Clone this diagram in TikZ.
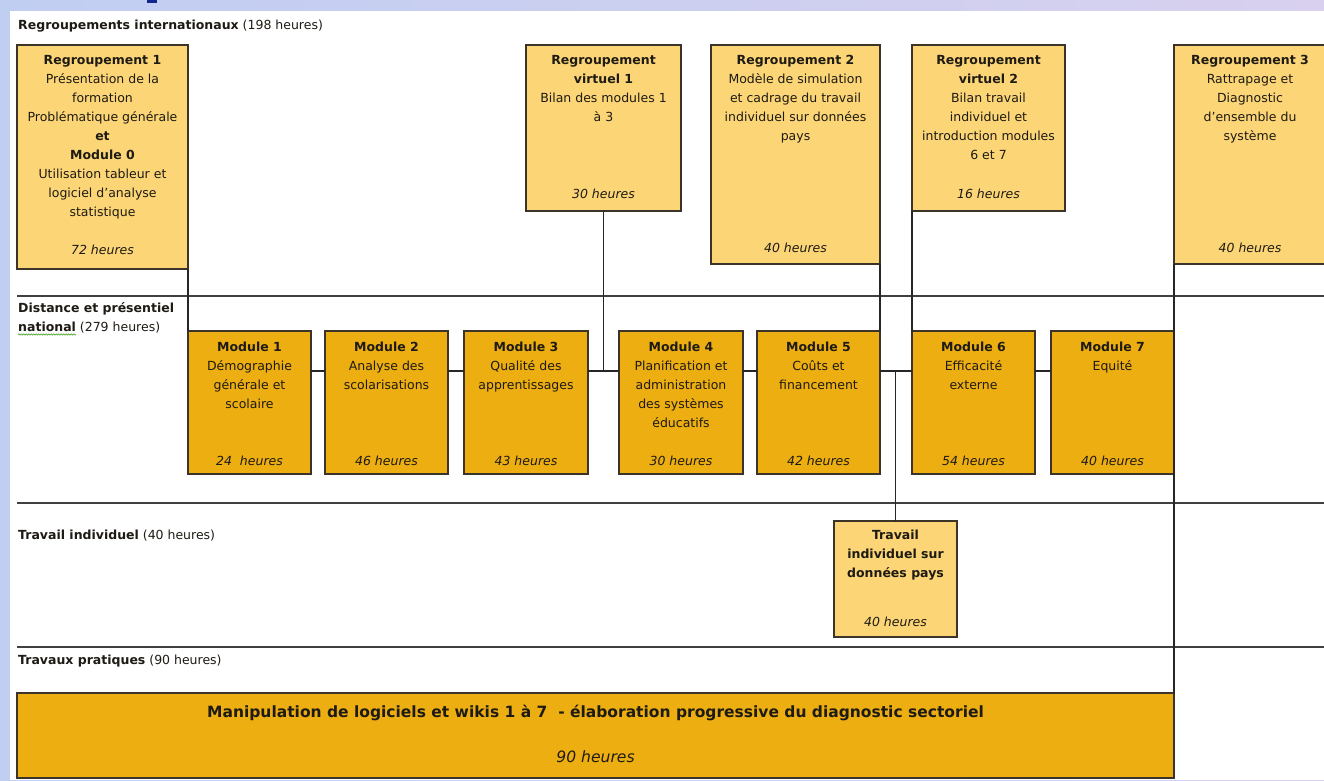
\documentclass[tikz,border=0pt]{standalone}
\usepackage{fontspec}
\setmainfont{DejaVu Sans}
\usetikzlibrary{decorations.pathmorphing}
\definecolor{lightbox}{RGB}{252,214,118}
\definecolor{darkbox}{RGB}{237,174,18}
\definecolor{edge}{RGB}{60,52,40}
\definecolor{ink}{RGB}{30,26,20}
\definecolor{bgA}{RGB}{192,206,242}
\definecolor{bgB}{RGB}{216,208,238}
\definecolor{markblue}{RGB}{20,40,140}
\definecolor{spell}{RGB}{90,170,60}
\newcommand{\R}{\rule{0pt}{13pt}}
\newcommand{\bx}[6]{\node[#2, minimum width={#5-#3}, minimum height={#6-#4}] (#1) at ({(#3+#5)/2},{(#4+#6)/2}) {};}
\tikzset{
  lbox/.style={draw=edge, line width=1.3pt, fill=lightbox, inner sep=0pt, outer sep=0pt},
  dbox/.style={draw=edge, line width=1.3pt, fill=darkbox, inner sep=0pt, outer sep=0pt},
  ttl/.style={anchor=north, align=center, inner sep=0pt, text=ink, font=\fontsize{12.5}{19}\selectfont},
  hrs/.style={anchor=base, inner sep=0pt, text=ink, font=\fontsize{12.5}{19}\selectfont\itshape},
  lane/.style={draw=black!75, line width=1.3pt},
  conn/.style={draw=black!85, line width=1.4pt},
  hdr/.style={anchor=base west, inner sep=0pt, text=ink, font=\fontsize{12.5}{19}\selectfont, align=left},
}
\begin{document}
\begin{tikzpicture}[x=1pt,y=-1pt]
\useasboundingbox (0,0) rectangle (1324,780);
\clip (0,0) rectangle (1324,780);
% background
\shade[left color=bgA, right color=bgB] (0,0) rectangle (1324,780);
\fill[white] (10,11) rectangle (1324,780);
\fill[markblue] (147,0) rectangle (157,3);
% lanes
\draw[lane] (17,296) -- (1324,296);
\draw[lane] (17,503) -- (1324,503);
\draw[lane] (17,647) -- (1324,647);
% lane headers
\node[hdr] (h1) at (18,29.5) {\textbf{Regroupements internationaux} (198 heures)};
\node[hdr, anchor=north west] (h2) at (18,299.5) {\R\textbf{Distance et présentiel}\\\textbf{national} (279 heures)};
\draw[spell, line width=0.7pt, decorate, decoration={snake, amplitude=0.6pt, segment length=2.5pt}] (18,334.5) -- (76,334.5);
\node[hdr] (h3) at (18,539.5) {\textbf{Travail individuel} (40 heures)};
\node[hdr] (h4) at (18,664.5) {\textbf{Travaux pratiques} (90 heures)};
% boxes
\bx{r1}{lbox}{17}{45}{188}{269}
\bx{rv1}{lbox}{526}{45}{681}{211}
\bx{r2}{lbox}{711}{45}{880}{264}
\bx{rv2}{lbox}{912}{45}{1065}{211}
\bx{r3}{lbox}{1174}{45}{1326}{264}
\bx{m1}{dbox}{188}{331}{311}{474}
\bx{m2}{dbox}{325}{331}{448}{474}
\bx{m3}{dbox}{464}{331}{588}{474}
\bx{m4}{dbox}{619}{331}{743}{474}
\bx{m5}{dbox}{757}{331}{880}{474}
\bx{m6}{dbox}{912}{331}{1035}{474}
\bx{m7}{dbox}{1051}{331}{1174}{474}
\bx{ti}{lbox}{834}{521}{957}{637}
\bx{bar}{dbox}{17}{693}{1174}{778}
% connectors
\coordinate (lv) at (0,371);
\draw[conn] (r1.south east) -- (m1.north west);
\draw[conn] (m1.east |- lv) -- (m2.west |- lv);
\draw[conn] (m2.east |- lv) -- (m3.west |- lv);
\draw[conn] (m3.east |- lv) -- (m4.west |- lv);
\draw[conn] (rv1.south) -- (rv1.south |- lv);
\draw[conn] (m4.east |- lv) -- (m5.west |- lv);
\draw[conn] (r2.south east) -- (m5.north east);
\draw[conn] (m5.east |- lv) -- (m6.west |- lv);
\draw[conn] (ti.north) -- (ti.north |- lv);
\draw[conn] (rv2.south west) -- (m6.north west);
\draw[conn] (m6.east |- lv) -- (m7.west |- lv);
\draw[conn] (r3.south west) -- (bar.north east);
% texts top row
\node[ttl] (r1t) at ([yshift=-6.5pt]r1.north) {\R\textbf{Regroupement 1}\\Présentation de la\\formation\\Problématique générale\\\textbf{et}\\\textbf{Module 0}\\Utilisation tableur et\\logiciel d’analyse\\statistique};
\node[hrs] (r1h) at ([yshift=14.5pt]r1.south) {72 heures};
\node[ttl] (rv1t) at ([yshift=-6.5pt]rv1.north) {\R\textbf{Regroupement}\\\textbf{virtuel 1}\\Bilan des modules 1\\à 3};
\node[hrs] (rv1h) at ([yshift=12.5pt]rv1.south) {30 heures};
\node[ttl] (r2t) at ([yshift=-6.5pt]r2.north) {\R\textbf{Regroupement 2}\\Modèle de simulation\\et cadrage du travail\\individuel sur données\\pays};
\node[hrs] (r2h) at ([yshift=11.5pt]r2.south) {40 heures};
\node[ttl] (rv2t) at ([yshift=-6.5pt]rv2.north) {\R\textbf{Regroupement}\\\textbf{virtuel 2}\\Bilan travail\\individuel et\\introduction modules\\6 et 7};
\node[hrs] (rv2h) at ([yshift=13pt]rv2.south) {16 heures};
\node[ttl] (r3t) at ([yshift=-6.5pt]r3.north) {\R\textbf{Regroupement 3}\\Rattrapage et\\Diagnostic\\d’ensemble du\\système};
\node[hrs] (r3h) at ([yshift=11.5pt]r3.south) {40 heures};
% modules
\node[ttl] (m1t) at ([yshift=-7pt]m1.north) {\R\textbf{Module 1}\\Démographie\\générale et\\scolaire};
\node[hrs] (m1h) at ([yshift=9pt]m1.south) {24\ \ heures};
\node[ttl] (m2t) at ([yshift=-7pt]m2.north) {\R\textbf{Module 2}\\Analyse des\\scolarisations};
\node[hrs] (m2h) at ([yshift=9pt]m2.south) {46 heures};
\node[ttl] (m3t) at ([yshift=-7pt]m3.north) {\R\textbf{Module 3}\\Qualité des\\apprentissages};
\node[hrs] (m3h) at ([yshift=9pt]m3.south) {43 heures};
\node[ttl] (m4t) at ([yshift=-7pt]m4.north) {\R\textbf{Module 4}\\Planification et\\administration\\des systèmes\\éducatifs};
\node[hrs] (m4h) at ([yshift=9pt]m4.south) {30 heures};
\node[ttl] (m5t) at ([yshift=-7pt]m5.north) {\R\textbf{Module 5}\\Coûts et\\financement};
\node[hrs] (m5h) at ([yshift=9pt]m5.south) {42 heures};
\node[ttl] (m6t) at ([yshift=-7pt]m6.north) {\R\textbf{Module 6}\\Efficacité\\externe};
\node[hrs] (m6h) at ([yshift=9pt]m6.south) {54 heures};
\node[ttl] (m7t) at ([yshift=-7pt]m7.north) {\R\textbf{Module 7}\\Equité};
\node[hrs] (m7h) at ([yshift=9pt]m7.south) {40 heures};
% travail individuel
\node[ttl] (tit) at ([yshift=-5.5pt]ti.north) {\R\textbf{Travail}\\\textbf{individuel sur}\\\textbf{données pays}};
\node[hrs] (tih) at ([yshift=10.5pt]ti.south) {40 heures};
% bar
\node[anchor=base, inner sep=0pt, text=ink, font=\fontsize{15.5}{18}\selectfont\bfseries] (bart) at ([yshift=-24.5pt]bar.north) {Manipulation de logiciels et wikis 1 à 7\ \ - élaboration progressive du diagnostic sectoriel};
\node[anchor=base, inner sep=0pt, text=ink, font=\fontsize{15.6}{18}\selectfont\itshape] (barh) at ([yshift=15.5pt]bar.south) {90 heures};
\end{tikzpicture}
\end{document}
